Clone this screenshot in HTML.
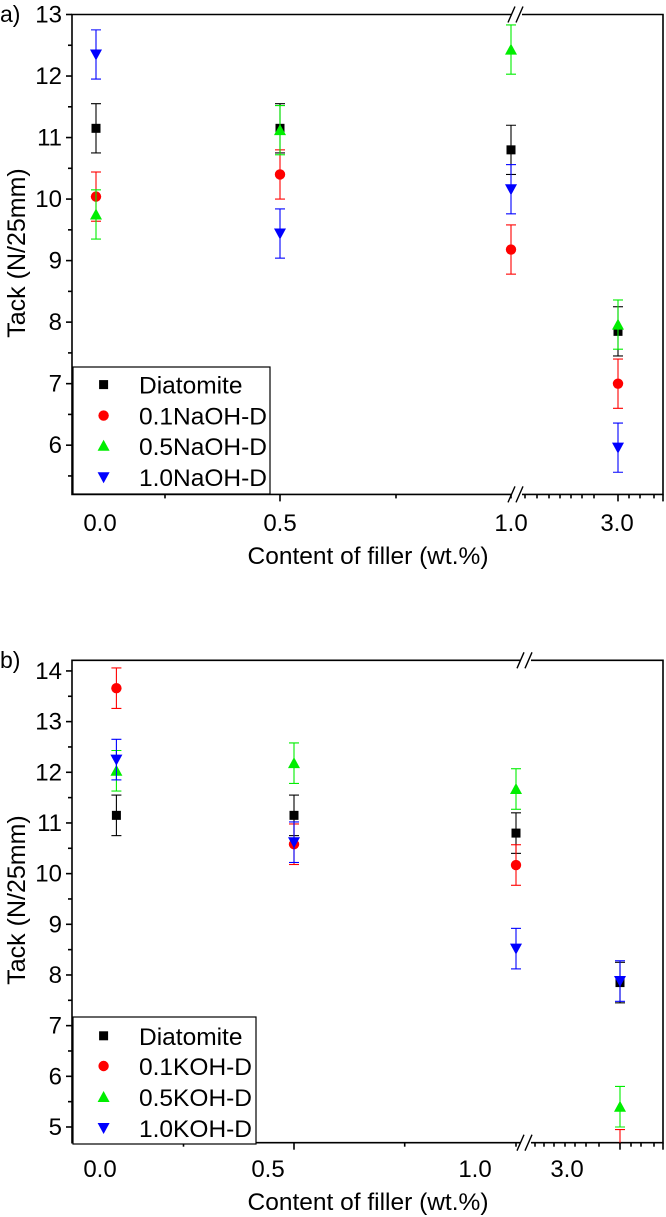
<!DOCTYPE html>
<html><head><meta charset="utf-8"><style>
body{margin:0;background:#fff}
svg{display:block;font-family:"Liberation Sans",Arial,sans-serif}
</style></head><body>
<svg id="s" width="666" height="1217" viewBox="0 0 666 1217"></svg>
<script>
const categories = ["0.0","0.5","1.0","3.0"];
// Panel a
const aDiatomite = [11.15, 11.15, 10.8, 7.85];
const aNaOH01 = [10.04, 10.4, 9.18, 7.0];
const aNaOH05 = [9.75, 11.12, 12.43, 7.96];
const aNaOH10 = [12.35, 9.44, 10.16, 5.96];
const aErr = [0.4, 0.4, 0.4, 0.4];
const aYTicks = [6, 7, 8, 9, 10, 11, 12, 13];
const aNames = ["Diatomite","0.1NaOH-D","0.5NaOH-D","1.0NaOH-D"];
// Panel b
const bDiatomite = [11.15, 11.15, 10.8, 7.85];
const bKOH01 = [13.66, 10.58, 10.17, 4.55];
const bKOH05 = [12.03, 12.18, 11.67, 5.4];
const bKOH10 = [12.25, 10.62, 8.52, 7.88];
const bErr = [0.4, 0.4, 0.4, 0.4];
const bYTicks = [5, 6, 7, 8, 9, 10, 11, 12, 13, 14];
const bNames = ["Diatomite","0.1KOH-D","0.5KOH-D","1.0KOH-D"];

const NS="http://www.w3.org/2000/svg";
const svg=document.getElementById('s');
function mk(tag,attrs,parent){const e=document.createElementNS(NS,tag);for(const k in attrs)e.setAttribute(k,attrs[k]);(parent||svg).appendChild(e);return e;}
const colors=["#000000","#ff0000","#00ee00","#0000ff"];

function marker(g,type,x,y,c){
  let e;
  if(type===0){e=mk('rect',{x:x-4.5,y:y-4.5,width:9,height:9,fill:c},g);}
  else if(type===1){e=mk('circle',{cx:x,cy:y,r:5.2,fill:c},g);}
  else if(type===2){e=mk('polygon',{points:`${x-6},${y+5} ${x+6},${y+5} ${x},${y-6}`,fill:c},g);}
  else {e=mk('polygon',{points:`${x-6},${y-5} ${x+6},${y-5} ${x},${y+6}`,fill:c},g);}
  return e;
}

function panel(cfg){
  const {L,R,T,B,ymin,ymax,xs,brk,series,err,yTicks,names,logTicks,minorX,xLabelX,xLabelY,titleY,legend,tag,tagY,yTitleY}=cfg;
  const yS=v=>B-(v-ymin)/(ymax-ymin)*(B-T);
  const xS=i=>xs[i];
  const g=mk('g',{});
  
  
  const ax=mk('g',{stroke:'#000','stroke-width':1.6,fill:'none'},g);
  
  
  mk('path',{d:`M${brk-4},${T}H${L}V${B}H${brk-4} M${brk+6},${T}H${R}V${B}H${brk+6}`},ax);
  [T,B].forEach(y=>{mk('path',{d:`M${brk-8},${y+8}L${brk-1},${y-8} M${brk},${y+8}L${brk+7},${y-8}`,'stroke-width':1.4},ax);});
  yTicks.forEach(v=>{const y=yS(v);mk('line',{x1:L-6,x2:L,y1:y,y2:y},ax);
    const t=mk('text',{x:L-10,y:y+8,'text-anchor':'end','font-size':24,fill:'#000',stroke:'none'},g);t.textContent=v;
    
    const yh=yS(v+0.5); if(v+0.5<ymax) mk('line',{x1:L-4,x2:L,y1:yh,y2:yh},ax);
  });
  const yl=yS(yTicks[0]-0.5); if(yTicks[0]-0.5>ymin) mk('line',{x1:L-4,x2:L,y1:yl,y2:yl},ax);
  minorX.forEach(x=>mk('line',{x1:x,x2:x,y1:B,y2:B+4},ax));
  logTicks.forEach(x=>mk('line',{x1:x,x2:x,y1:B,y2:B+4},ax));
  [1,3].forEach(i=>mk('line',{x1:xS(i),x2:xS(i),y1:B,y2:B+7},ax));
  mk('line',{x1:R,x2:R,y1:B,y2:B+7},ax);
  categories.forEach((c,i)=>{const t=mk('text',{x:xLabelX[i],y:xLabelY,'text-anchor':'middle','font-size':24},g);t.textContent=c;
    });
  const xt=mk('text',{x:368,y:titleY,'text-anchor':'middle','font-size':24.5},g);xt.textContent='Content of filler (wt.%)';
  
  const yt=mk('text',{x:0,y:0,'text-anchor':'middle','font-size':25,transform:`translate(25,${yTitleY}) rotate(-90)`},g);yt.textContent='Tack (N/25mm)';
  
  const tg=mk('text',{x:0,y:tagY,'font-size':23},g);tg.textContent=tag+')';
  
  const lg=mk('g',{},g);
  
  mk('rect',{x:legend.x,y:legend.y,width:legend.w,height:legend.h,fill:'#fff',stroke:'#000','stroke-width':1.2},lg);
  names.forEach((n,k)=>{const ey=legend.rows[k];
    const le=mk('g',{},lg);
    marker(le,k,103.6,ey,colors[k]);
    const t=mk('text',{x:139,y:ey+9,'font-size':24.5},le);t.textContent=n;});
  series.forEach((vals,k)=>{
    const sg=mk('g',{},g);
    
    
    const cp=mk('clipPath',{id:'c'+tag},g);mk('rect',{x:L,y:T,width:R-L,height:B-T},cp);
    vals.forEach((v,i)=>{
      const x=xS(i),y=yS(v),e=err[i];
      const eg=mk('g',{stroke:colors[k],'stroke-width':1.1,'clip-path':`url(#c${tag})`},sg);
      
      mk('line',{x1:x,x2:x,y1:yS(v+e),y2:yS(v-e)},eg);
      mk('line',{x1:x-5,x2:x+5,y1:yS(v+e),y2:yS(v+e)},eg);
      mk('line',{x1:x-5,x2:x+5,y1:yS(v-e),y2:yS(v-e)},eg);
      if(v>ymin){const m=marker(sg,k,x,y,colors[k]);
        }
    });
  });
}

panel({L:72,R:663,T:14.5,B:494.4,ymin:5.2,ymax:13,xs:[96,280,511,618],brk:516,
  series:[aDiatomite,aNaOH01,aNaOH05,aNaOH10],err:aErr,yTicks:aYTicks,names:aNames,
  logTicks:[525,537,549,560,571,582,594,629,640,654],minorX:[165,396,511],
  xLabelX:[100,280,511,617],xLabelY:531,titleY:564,tag:'a',tagY:22,yTitleY:253,
  legend:{x:73,y:367,w:197,h:127,rows:[384.6,415.6,445.8,477.2]}});
panel({L:72,R:663,T:660.3,B:1142.7,ymin:4.69,ymax:14.21,xs:[116.4,294,516,620],brk:525,
  series:[bDiatomite,bKOH01,bKOH05,bKOH10],err:bErr,yTicks:bYTicks,names:bNames,
  logTicks:[535,544,554,565,575,586,599,631,641,654],minorX:[183.5,404.7,516],
  xLabelX:[100,268,475,567],xLabelY:1177,titleY:1210,tag:'b',tagY:668,yTitleY:900,
  legend:{x:73,y:1017,w:183,h:127,rows:[1035.8,1066,1097,1128]}});
</script>
</body></html>
